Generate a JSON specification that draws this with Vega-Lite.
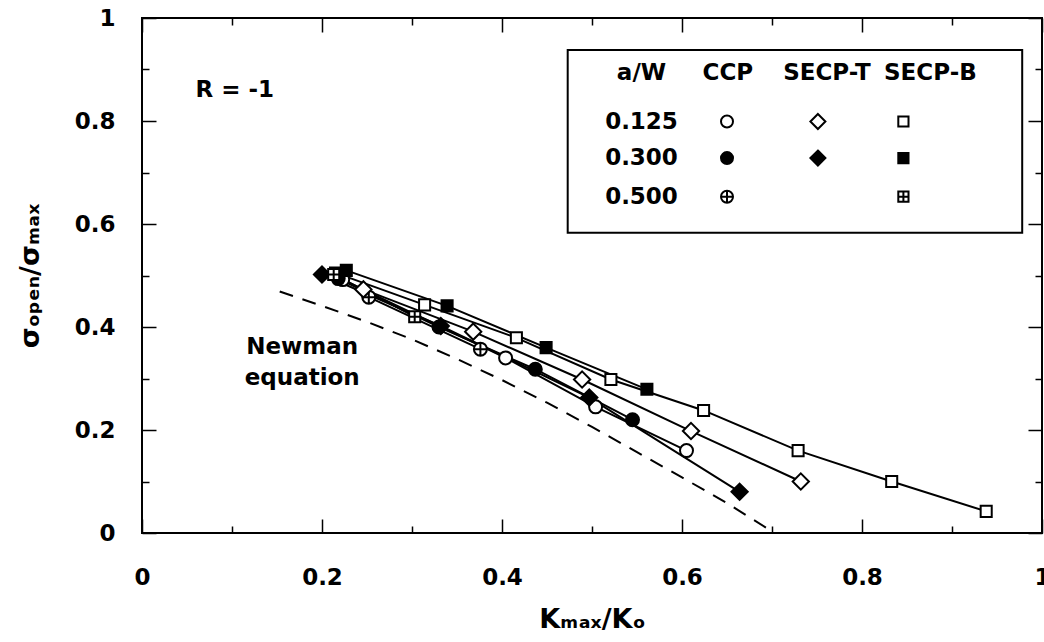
{
  "$schema": "https://vega.github.io/schema/vega-lite/v6.json",
  "width": 900,
  "height": 515,
  "autosize": {"type": "none"},
  "padding": {"left": 142, "top": 18, "right": 2, "bottom": 109},
  "background": "white",
  "config": {
    "view": {"stroke": "black", "strokeWidth": 2},
    "font": "DejaVu Sans",
    "axis": {
      "domain": false,
      "grid": false,
      "tickColor": "black",
      "tickWidth": 1.5,
      "labelColor": "black",
      "labelFont": "DejaVu Sans",
      "labelFontWeight": "bold",
      "labelFontSize": 23,
      "labelFlush": false,
      "titleColor": "black",
      "titleFont": "DejaVu Sans",
      "titleFontWeight": "bold",
      "titleFontSize": 27
    }
  },
  "datasets": {
    "series": [
      {"series": "CCP 0.125", "k": 0.223, "s": 0.492},
      {"series": "CCP 0.125", "k": 0.404, "s": 0.340},
      {"series": "CCP 0.125", "k": 0.504, "s": 0.245},
      {"series": "CCP 0.125", "k": 0.605, "s": 0.160},
      {"series": "CCP 0.300", "k": 0.218, "s": 0.494},
      {"series": "CCP 0.300", "k": 0.330, "s": 0.400},
      {"series": "CCP 0.300", "k": 0.437, "s": 0.318},
      {"series": "CCP 0.300", "k": 0.545, "s": 0.220},
      {"series": "CCP 0.500", "k": 0.252, "s": 0.458},
      {"series": "CCP 0.500", "k": 0.376, "s": 0.357},
      {"series": "SECP-T 0.125", "k": 0.246, "s": 0.473},
      {"series": "SECP-T 0.125", "k": 0.368, "s": 0.391},
      {"series": "SECP-T 0.125", "k": 0.489, "s": 0.298},
      {"series": "SECP-T 0.125", "k": 0.610, "s": 0.198},
      {"series": "SECP-T 0.125", "k": 0.732, "s": 0.100},
      {"series": "SECP-T 0.300", "k": 0.200, "s": 0.502},
      {"series": "SECP-T 0.300", "k": 0.332, "s": 0.402},
      {"series": "SECP-T 0.300", "k": 0.497, "s": 0.263},
      {"series": "SECP-T 0.300", "k": 0.664, "s": 0.080},
      {"series": "SECP-B 0.125", "k": 0.215, "s": 0.505},
      {"series": "SECP-B 0.125", "k": 0.314, "s": 0.443},
      {"series": "SECP-B 0.125", "k": 0.416, "s": 0.379},
      {"series": "SECP-B 0.125", "k": 0.521, "s": 0.298},
      {"series": "SECP-B 0.125", "k": 0.624, "s": 0.238},
      {"series": "SECP-B 0.125", "k": 0.729, "s": 0.160},
      {"series": "SECP-B 0.125", "k": 0.833, "s": 0.100},
      {"series": "SECP-B 0.125", "k": 0.938, "s": 0.042},
      {"series": "SECP-B 0.300", "k": 0.227, "s": 0.510},
      {"series": "SECP-B 0.300", "k": 0.339, "s": 0.441},
      {"series": "SECP-B 0.300", "k": 0.449, "s": 0.360},
      {"series": "SECP-B 0.300", "k": 0.561, "s": 0.279},
      {"series": "SECP-B 0.500", "k": 0.213, "s": 0.502},
      {"series": "SECP-B 0.500", "k": 0.303, "s": 0.420}
    ],
    "newman": [
      {"k": 0.153, "s": 0.469},
      {"k": 0.20, "s": 0.441},
      {"k": 0.25, "s": 0.410},
      {"k": 0.30, "s": 0.376},
      {"k": 0.35, "s": 0.338},
      {"k": 0.40, "s": 0.297},
      {"k": 0.45, "s": 0.253},
      {"k": 0.50, "s": 0.206},
      {"k": 0.55, "s": 0.157},
      {"k": 0.60, "s": 0.108},
      {"k": 0.65, "s": 0.058},
      {"k": 0.70, "s": 0.003}
    ],
    "legendbox": [{"k": 0.473, "k2": 0.978, "s": 0.583, "s2": 0.938}],
    "legendtext": [
      {"t": "a/W", "k": 0.555, "s": 0.893},
      {"t": "CCP", "k": 0.651, "s": 0.893},
      {"t": "SECP-T", "k": 0.761, "s": 0.893},
      {"t": "SECP-B", "k": 0.876, "s": 0.893},
      {"t": "0.125", "k": 0.555, "s": 0.799},
      {"t": "0.300", "k": 0.555, "s": 0.728},
      {"t": "0.500", "k": 0.555, "s": 0.653}
    ],
    "legendpts": [
      {"series": "CCP 0.125", "k": 0.650, "s": 0.799},
      {"series": "CCP 0.300", "k": 0.650, "s": 0.728},
      {"series": "CCP 0.500", "k": 0.650, "s": 0.653},
      {"series": "SECP-T 0.125", "k": 0.751, "s": 0.799},
      {"series": "SECP-T 0.300", "k": 0.751, "s": 0.728},
      {"series": "SECP-B 0.125", "k": 0.846, "s": 0.799},
      {"series": "SECP-B 0.300", "k": 0.846, "s": 0.728},
      {"series": "SECP-B 0.500", "k": 0.846, "s": 0.653}
    ],
    "notes": [
      {"t": "R = -1", "k": 0.103, "s": 0.860},
      {"t": "Newman", "k": 0.178, "s": 0.361},
      {"t": "equation", "k": 0.178, "s": 0.301}
    ]
  },
  "layer": [
    {
      "data": {"name": "newman"},
      "mark": {"type": "line", "color": "black", "strokeWidth": 2, "strokeDash": [14, 10]},
      "encoding": {
        "x": {
          "field": "k", "type": "quantitative",
          "scale": {"domain": [0, 1], "nice": false, "zero": false},
          "axis": {
            "orient": "bottom",
            "values": [0, 0.1, 0.2, 0.3, 0.4, 0.5, 0.6, 0.7, 0.8, 0.9, 1],
            "format": "~g",
            "labelExpr": "round(datum.value*10)%2==0 ? datum.label : ''",
            "tickSize": {"condition": {"test": "round(datum.value*10)%2==0", "value": -14}, "value": -7},
            "labelPadding": 47,
            "title": "Kₘₐₓ/Kₒ",
            "titlePadding": 17
          }
        },
        "y": {
          "field": "s", "type": "quantitative",
          "scale": {"domain": [0, 1], "nice": false, "zero": false},
          "axis": {
            "orient": "left",
            "values": [0, 0.1, 0.2, 0.3, 0.4, 0.5, 0.6, 0.7, 0.8, 0.9, 1],
            "format": "~g",
            "labelExpr": "round(datum.value*10)%2==0 ? datum.label : ''",
            "tickSize": {"condition": {"test": "round(datum.value*10)%2==0", "value": -14}, "value": -7},
            "labelPadding": 41,
            "title": "σₒₚₑₙ/σₘₐₓ",
            "titlePadding": 30
          }
        }
      }
    },
    {
      "data": {"name": "series"},
      "mark": {"type": "line", "color": "black", "strokeWidth": 2},
      "encoding": {
        "x": {
          "field": "k", "type": "quantitative",
          "scale": {"domain": [0, 1], "nice": false, "zero": false},
          "axis": {
            "orient": "top",
            "values": [0, 0.1, 0.2, 0.3, 0.4, 0.5, 0.6, 0.7, 0.8, 0.9, 1],
            "labels": false,
            "title": null,
            "tickSize": {"condition": {"test": "round(datum.value*10)%2==0", "value": -14}, "value": -7}
          }
        },
        "y": {
          "field": "s", "type": "quantitative",
          "scale": {"domain": [0, 1], "nice": false, "zero": false},
          "axis": {
            "orient": "right",
            "values": [0, 0.1, 0.2, 0.3, 0.4, 0.5, 0.6, 0.7, 0.8, 0.9, 1],
            "labels": false,
            "title": null,
            "tickSize": {"condition": {"test": "round(datum.value*10)%2==0", "value": -14}, "value": -7}
          }
        },
        "detail": {"field": "series", "type": "nominal"}
      }
    },
    {
      "data": {"name": "series"},
      "mark": {"type": "point", "filled": true, "stroke": "black", "strokeWidth": 2, "size": 169, "opacity": 1},
      "encoding": {
        "x": {"field": "k", "type": "quantitative", "axis": null},
        "y": {"field": "s", "type": "quantitative", "axis": null},
        "shape": {
          "field": "series", "type": "nominal", "legend": null,
          "scale": {
            "domain": ["CCP 0.125", "CCP 0.300", "CCP 0.500", "SECP-T 0.125", "SECP-T 0.300", "SECP-B 0.125", "SECP-B 0.300", "SECP-B 0.500"],
            "range": [
              "M -1 0 A 1 1 0 1 1 1 0 A 1 1 0 1 1 -1 0 Z",
              "M -1 0 A 1 1 0 1 1 1 0 A 1 1 0 1 1 -1 0 Z",
              "M -1 0 A 1 1 0 1 1 1 0 A 1 1 0 1 1 -1 0 Z M -1 0 L 1 0 M 0 -1 L 0 1",
              "M 0 -1.25 L 1.25 0 L 0 1.25 L -1.25 0 Z",
              "M 0 -1.25 L 1.25 0 L 0 1.25 L -1.25 0 Z",
              "M -0.85 -0.85 L 0.85 -0.85 L 0.85 0.85 L -0.85 0.85 Z",
              "M -0.85 -0.85 L 0.85 -0.85 L 0.85 0.85 L -0.85 0.85 Z",
              "M -0.85 -0.85 L 0.85 -0.85 L 0.85 0.85 L -0.85 0.85 Z M -0.85 0 L 0.85 0 M 0 -0.85 L 0 0.85"
            ]
          }
        },
        "fill": {
          "field": "series", "type": "nominal", "legend": null,
          "scale": {
            "domain": ["CCP 0.125", "CCP 0.300", "CCP 0.500", "SECP-T 0.125", "SECP-T 0.300", "SECP-B 0.125", "SECP-B 0.300", "SECP-B 0.500"],
            "range": ["white", "black", "white", "white", "black", "white", "black", "white"]
          }
        }
      }
    },
    {
      "data": {"name": "legendbox"},
      "mark": {"type": "rect", "fill": "white", "stroke": "black", "strokeWidth": 2},
      "encoding": {
        "x": {"field": "k", "type": "quantitative", "axis": null},
        "x2": {"field": "k2"},
        "y": {"field": "s", "type": "quantitative", "axis": null},
        "y2": {"field": "s2"}
      }
    },
    {
      "data": {"name": "legendtext"},
      "mark": {"type": "text", "font": "DejaVu Sans", "fontWeight": "bold", "fontSize": 23, "color": "black", "align": "center", "baseline": "middle"},
      "encoding": {
        "x": {"field": "k", "type": "quantitative", "axis": null},
        "y": {"field": "s", "type": "quantitative", "axis": null},
        "text": {"field": "t", "type": "nominal"}
      }
    },
    {
      "data": {"name": "legendpts"},
      "mark": {"type": "point", "filled": true, "stroke": "black", "strokeWidth": 2, "size": 144, "opacity": 1},
      "encoding": {
        "x": {"field": "k", "type": "quantitative", "axis": null},
        "y": {"field": "s", "type": "quantitative", "axis": null},
        "shape": {"field": "series", "type": "nominal", "legend": null},
        "fill": {"field": "series", "type": "nominal", "legend": null}
      }
    },
    {
      "data": {"name": "notes"},
      "mark": {"type": "text", "font": "DejaVu Sans", "fontWeight": "bold", "fontSize": 23, "color": "black", "align": "center", "baseline": "middle"},
      "encoding": {
        "x": {"field": "k", "type": "quantitative", "axis": null},
        "y": {"field": "s", "type": "quantitative", "axis": null},
        "text": {"field": "t", "type": "nominal"}
      }
    }
  ],
  "resolve": {"axis": {"x": "independent", "y": "independent"}}
}
